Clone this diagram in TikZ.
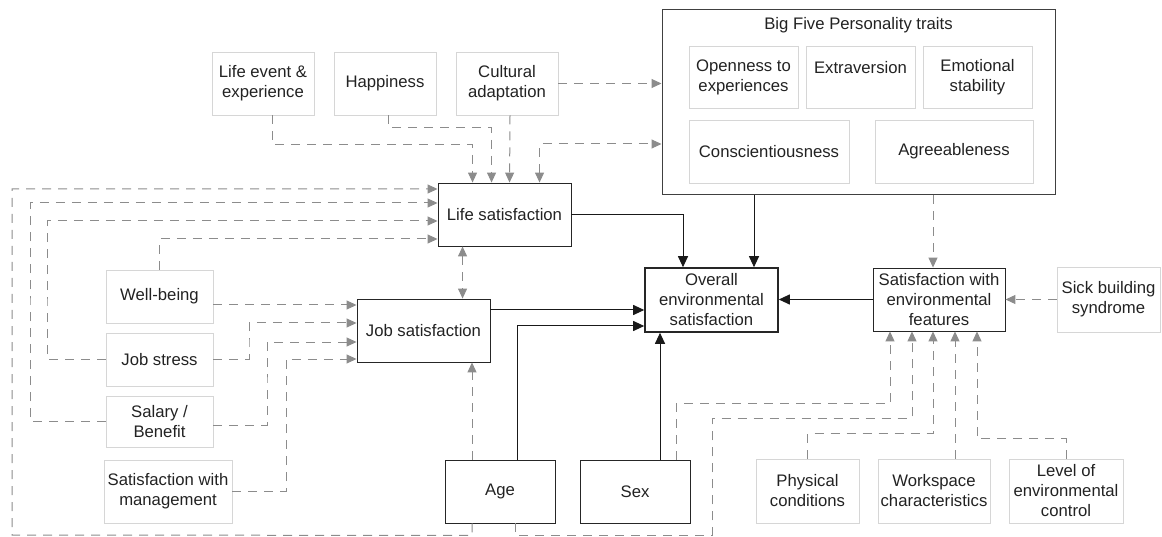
\documentclass[tikz,border=0pt]{standalone}
\usepackage{fontspec}
\setmainfont{Liberation Sans}
\usetikzlibrary{arrows.meta, positioning}

\definecolor{linkgray}{HTML}{8C8C8C}
\definecolor{boxgray}{HTML}{D6D6D6}
\definecolor{inkgray}{HTML}{222222}
\newcommand{\diagfont}{\fontsize{16.7}{20}\selectfont}

\tikzset{
  factor/.style={draw=boxgray, line width=0.9pt, align=center, inner sep=2pt, font=\diagfont, text=inkgray},
  keybox/.style={draw=black!85, line width=0.9pt, align=center, inner sep=2pt, font=\diagfont, text=inkgray},
  outcome/.style={keybox, line width=1.6pt},
  dashlink/.style={draw=linkgray, line width=1pt, dash pattern=on 9pt off 7pt, -{Triangle[length=10pt,width=9pt]}},
  dashboth/.style={dashlink, {Triangle[length=10pt,width=9pt]}-{Triangle[length=10pt,width=9pt]}},
  solidlink/.style={draw=black!90, line width=1pt, -{Triangle[length=11pt,width=10pt]}}
}

\begin{document}
\begin{tikzpicture}[x=1pt, y=-1pt]
\useasboundingbox (0,0) rectangle (1162,537);

% upper factors
\node[factor, minimum width=102pt, minimum height=63pt] (lifeevent) at (263,83.5) {Life event \&\\experience};
\node[factor, minimum width=102pt, minimum height=63pt] (happiness) at (385,83.5) {Happiness};
\node[factor, minimum width=102pt, minimum height=63pt] (cultural) at (507,83.5) {Cultural\\adaptation};

% personality block
\node[draw=black!75, line width=1pt, minimum width=393pt, minimum height=185pt] (bigfive) at (858.5,102.5) {};
\node[font=\diagfont, text=inkgray] (bftitle) at (858.5,25) {Big Five Personality traits};
\node[factor, minimum width=109pt, minimum height=62pt] (openness) at (743.5,77) {Openness to\\experiences};
\node[factor, minimum width=109pt, minimum height=62pt] (extraversion) at (860.5,77) {Extraversion\\\mbox{}};
\node[factor, minimum width=109pt, minimum height=62pt] (emotional) at (977.5,77) {Emotional\\stability};
\node[factor, minimum width=160pt, minimum height=63pt] (conscientious) at (769,151.5) {Conscientiousness};
\node[factor, minimum width=158pt, minimum height=63pt] (agreeable) at (954,151.5) {Agreeableness};

% satisfaction boxes
\node[keybox, minimum width=133pt, minimum height=63pt] (lifesat) at (504.5,214.5) {Life satisfaction};
\node[keybox, minimum width=133pt, minimum height=63pt] (jobsat) at (423.5,330.5) {Job satisfaction};
\node[outcome, minimum width=133pt, minimum height=64pt] (overall) at (711.5,300) {Overall\\environmental\\satisfaction};
\node[keybox, minimum width=132pt, minimum height=63pt] (envsat) at (939,299.5) {Satisfaction with\\environmental\\features};
\node[factor, minimum width=103pt, minimum height=65pt] (sick) at (1108.5,299.5) {Sick building\\syndrome};

% work factors
\node[factor, minimum width=107pt, minimum height=53pt] (wellbeing) at (159.5,296.5) {Well-being};
\node[factor, minimum width=107pt, minimum height=53pt] (jobstress) at (159.5,359.5) {Job stress};
\node[factor, minimum width=107pt, minimum height=51pt] (salary) at (159.5,421.5) {Salary /\\Benefit};
\node[factor, minimum width=128pt, minimum height=63pt] (mgmt) at (168,491.5) {Satisfaction with\\management};

% bottom row
\node[keybox, minimum width=110pt, minimum height=63pt] (age) at (500,491.5) {Age};
\node[keybox, minimum width=110pt, minimum height=63pt] (sex) at (635,491.5) {Sex};
\node[factor, minimum width=103pt, minimum height=64pt] (physical) at (807.5,491) {Physical\\conditions};
\node[factor, minimum width=112pt, minimum height=64pt] (workspace) at (934,491) {Workspace\\characteristics};
\node[factor, minimum width=114pt, minimum height=64pt] (control) at (1066,491) {Level of\\environmental\\control};

\coordinate (lifejob) at ([xshift=25pt]lifesat.south west);
\coordinate (agejob) at ([xshift=-28pt]age.north);
\coordinate (bfenv) at ([xshift=-6pt]envsat.north);
\coordinate (bfover) at ([xshift=42.5pt]overall.north);

% dashed links into life satisfaction
\draw[dashlink] ([xshift=9pt]lifeevent.south) -- ++(0,29) -| ([xshift=35pt]lifesat.north west);
\draw[dashlink] ([xshift=3pt]happiness.south) -- ++(0,12) -| ([xshift=54pt]lifesat.north west);
\draw[dashlink] ([xshift=3pt]cultural.south) -- ([xshift=72pt]lifesat.north west);
\draw[dashlink] (cultural.east) -- (cultural.east -| bigfive.west);
\draw[dashboth] ([xshift=102pt]lifesat.north west) |- ([yshift=-41.5pt]bigfive.west);
\draw[dashlink] ([xshift=-28pt]age.south) -- ++(0,12) -- (12,535) |- ([yshift=25.5pt]lifesat.west);
\draw[dashlink] (salary.west) -| (30,300) |- ([yshift=11.5pt]lifesat.west);
\draw[dashlink] (jobstress.west) -| (47,300) |- ([yshift=-6.5pt]lifesat.west);
\draw[dashlink] (wellbeing.north) |- ([yshift=-24.5pt]lifesat.west);
\draw[dashboth] (lifejob) -- (lifejob |- jobsat.north);

% dashed links into job satisfaction
\draw[dashlink] ([yshift=-8.5pt]wellbeing.east) -- ([yshift=25.5pt]jobsat.west);
\draw[dashlink] (jobstress.east) -| (249,340) |- ([yshift=7.5pt]jobsat.west);
\draw[dashlink] ([yshift=-3.5pt]salary.east) -| (267,380) |- ([yshift=-11.5pt]jobsat.west);
\draw[dashlink] (mgmt.east) -| (286,420) |- ([yshift=-28.5pt]jobsat.west);
\draw[dashlink] (agejob) -- (agejob |- jobsat.south);

% dashed links into environmental features
\draw[dashlink] (bfenv |- bigfive.south) -- (bfenv);
\draw[dashlink] (sick.west) -- (envsat.east);
\draw[dashlink] ([xshift=41pt]sex.north) -- ++(0,-56) -| ([xshift=-49pt]envsat.south);
\draw[dashlink] ([xshift=15pt]age.south) -- ++(0,12) -| (712,418) -| ([xshift=-27pt]envsat.south);
\draw[dashlink] (physical.north) -- ++(0,-25) -| ([xshift=-6pt]envsat.south);
\draw[dashlink] ([xshift=21pt]workspace.north) -- ([xshift=16pt]envsat.south);
\draw[dashlink] (control.north) -- ++(0,-20) -| ([xshift=38pt]envsat.south);

% solid links into overall satisfaction
\draw[solidlink] (envsat.west) -- (envsat.west -| overall.east);
\draw[solidlink] (lifesat.east) -| ([xshift=-28.5pt]overall.north);
\draw[solidlink] (bfover |- bigfive.south) -- (bfover);
\draw[solidlink] ([yshift=20.5pt]jobsat.east) -- ([yshift=-10pt]overall.west);
\draw[solidlink] ([xshift=17pt]age.north) |- ([yshift=-26pt]overall.west);
\draw[solidlink] ([xshift=25pt]sex.north) -- ([xshift=-51.5pt]overall.south);
\end{tikzpicture}
\end{document}
